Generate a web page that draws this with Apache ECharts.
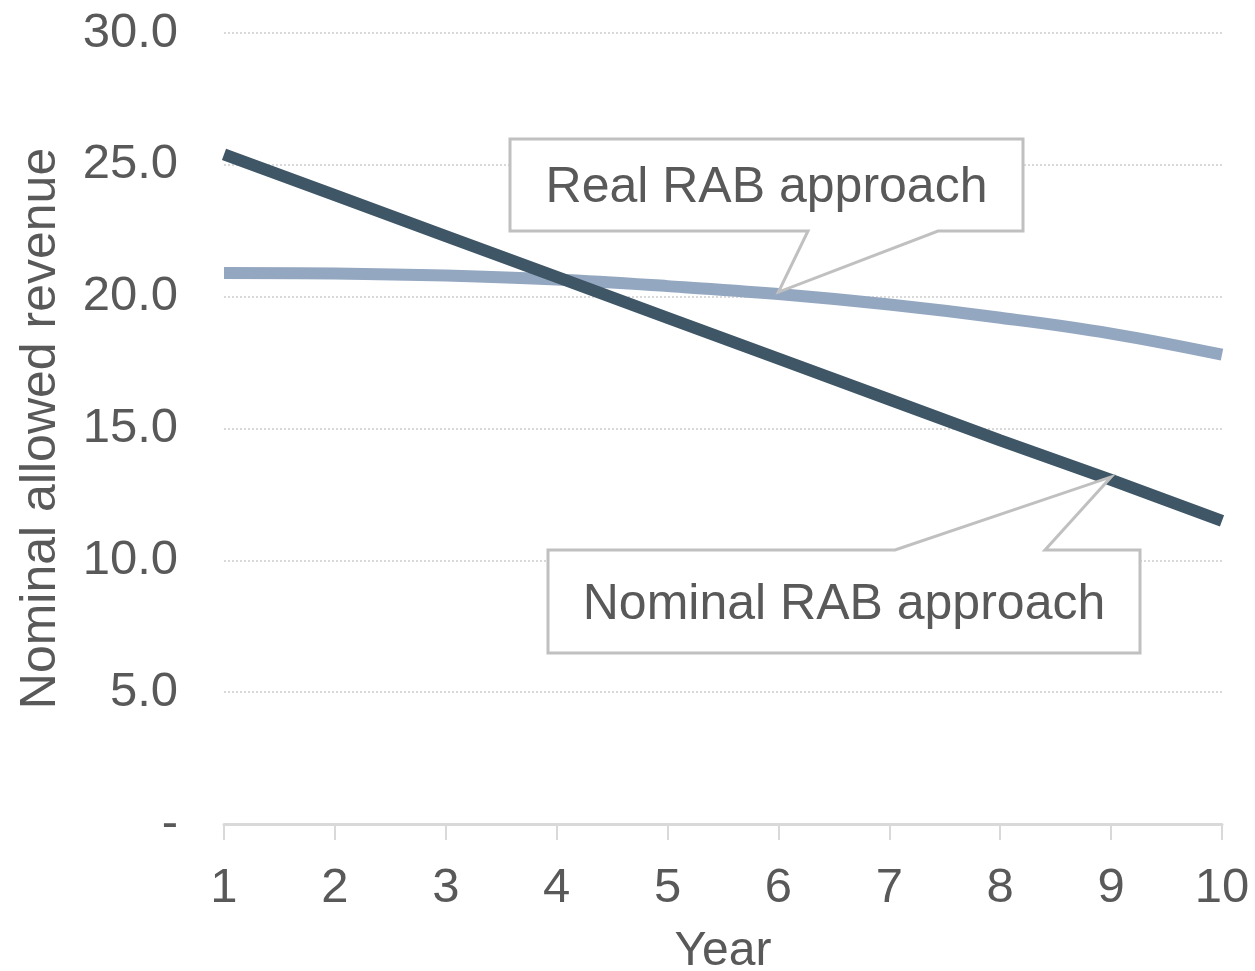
<!DOCTYPE html>
<html>
<head>
<meta charset="utf-8">
<script src="https://cdn.jsdelivr.net/npm/echarts@6/dist/echarts.min.js"></script>
<style>
html,body{margin:0;padding:0;background:#fff;}
#main{width:1255px;height:971px;}
</style>
</head>
<body>
<div id="main"></div>
<script>
const years = ['1','2','3','4','5','6','7','8','9','10'];
const nominalRAB = [25.4, 23.85, 22.3, 20.75, 19.2, 17.65, 16.1, 14.55, 13.05, 11.5];
const realRAB = [20.9, 20.88, 20.8, 20.65, 20.4, 20.1, 19.7, 19.2, 18.6, 17.8];
const yTicks = [0, 5, 10, 15, 20, 25, 30];
const calloutReal = {text: 'Real RAB approach', index: 5};
const calloutNominal = {text: 'Nominal RAB approach', index: 8};

const FONT = '"Liberation Sans", Arial, sans-serif';
const TXT = '#595959';

const chart = echarts.init(document.getElementById('main'), null, {renderer: 'canvas'});
chart.setOption({
  animation: false,
  backgroundColor: '#fff',
  grid: {left: 224, right: 33, top: 33, bottom: 147, containLabel: false, outerBoundsMode: 'none'},
  xAxis: {
    type: 'category',
    data: years,
    boundaryGap: false,
    name: 'Year',
    nameLocation: 'middle',
    nameGap: 104,
    nameTextStyle: {fontFamily: FONT, fontSize: 48, color: TXT, verticalAlign: 'top'},
    axisLine: {lineStyle: {color: '#d9d9d9', width: 3}},
    axisTick: {show: true, length: 16, alignWithLabel: true, lineStyle: {color: '#d9d9d9', width: 2}},
    axisLabel: {fontFamily: FONT, fontSize: 49, color: TXT, margin: 40},
    splitLine: {show: false}
  },
  yAxis: {
    type: 'value',
    min: yTicks[0],
    max: yTicks[yTicks.length - 1],
    interval: 5,
    name: 'Nominal allowed revenue',
    nameLocation: 'middle',
    nameRotate: 90,
    nameGap: 158,
    nameTextStyle: {fontFamily: FONT, fontSize: 50, color: TXT},
    axisLine: {show: false},
    axisTick: {show: false},
    axisLabel: {
      fontFamily: FONT, fontSize: 49, color: TXT, margin: 46,
      formatter: v => v === 0 ? '-' : v.toFixed(1)
    },
    splitLine: {
      show: true,
      lineStyle: {color: '#d9d9d9', width: 2, type: [2, 2]}
    }
  },
  series: [
    {
      name: 'Real RAB approach',
      type: 'line',
      data: realRAB,
      symbol: 'none',
      smooth: 0.4,
      lineStyle: {color: '#94a7c0', width: 12, cap: 'butt'},
      z: 3
    },
    {
      name: 'Nominal RAB approach',
      type: 'line',
      data: nominalRAB,
      symbol: 'none',
      lineStyle: {color: '#3f5666', width: 12, cap: 'butt'},
      z: 4
    }
  ]
});

function calloutAbove(tip, box, notch, text) {
  const [x0, y0, x1, y1] = box;
  return [
    {
      type: 'polygon', z: 100,
      shape: {points: [[x0,y0],[x1,y0],[x1,y1],[notch[1],y1],tip,[notch[0],y1],[x0,y1]]},
      style: {fill: '#fff', stroke: '#c0c0c0', lineWidth: 3, lineJoin: 'miter'}
    },
    {
      type: 'text', z: 101,
      x: (x0 + x1) / 2, y: (y0 + y1) / 2 + 3,
      style: {text: text, font: '50px ' + FONT, fill: TXT, align: 'center', verticalAlign: 'middle'}
    }
  ];
}
function calloutBelow(tip, box, notch, text) {
  const [x0, y0, x1, y1] = box;
  return [
    {
      type: 'polygon', z: 100,
      shape: {points: [[x0,y0],[notch[0],y0],tip,[notch[1],y0],[x1,y0],[x1,y1],[x0,y1]]},
      style: {fill: '#fff', stroke: '#c0c0c0', lineWidth: 3, lineJoin: 'miter'}
    },
    {
      type: 'text', z: 101,
      x: (x0 + x1) / 2, y: (y0 + y1) / 2 + 4,
      style: {text: text, font: '50px ' + FONT, fill: TXT, align: 'center', verticalAlign: 'middle'}
    }
  ];
}

const tipReal = chart.convertToPixel({gridIndex: 0}, [calloutReal.index, realRAB[calloutReal.index]]);
const tipNom = chart.convertToPixel({gridIndex: 0}, [calloutNominal.index, nominalRAB[calloutNominal.index]]);
tipReal[1] -= 2; tipNom[1] -= 3;

chart.setOption({
  graphic: [
    ...calloutAbove(tipReal, [510, 139, 1023, 231], [808, 938], calloutReal.text),
    ...calloutBelow(tipNom, [548, 550, 1140, 653], [895, 1045], calloutNominal.text)
  ]
});
</script>
</body>
</html>
